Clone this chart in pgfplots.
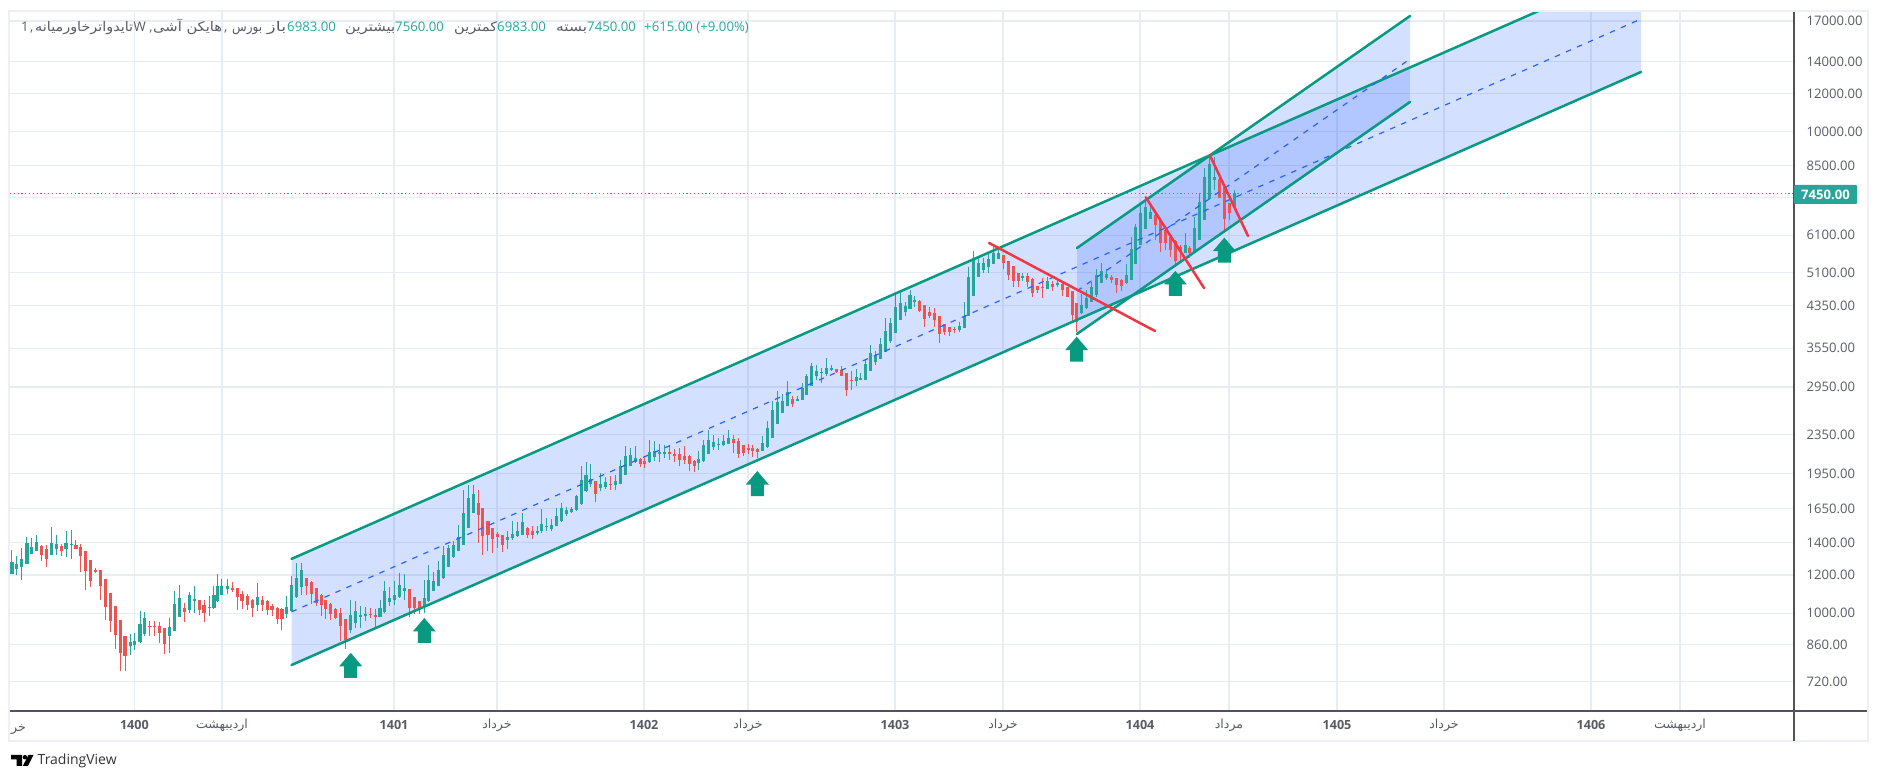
\documentclass[border=0pt]{standalone}
\usepackage{graphicx}
\usepackage{fontspec}
\usepackage{pgfplots}
\usepackage{pgfplotstable}
\pgfplotsset{compat=1.18}
\setmainfont{Open Sans}
\newfontfamily\arabicfont[Script=Arabic]{DejaVu Sans}
\TeXXeTstate=1
\newcommand{\fa}[1]{{\arabicfont\beginR #1\endR}}
\newcommand{\faw}[2]{\resizebox{#1}{\height}{\fa{#2}}}
\definecolor{upc}{HTML}{26A69A}
\definecolor{dnc}{HTML}{EF5350}
\definecolor{linec}{HTML}{089981}
\definecolor{redl}{HTML}{F23645}
\definecolor{bluec}{HTML}{2962FF}
\definecolor{gridc}{HTML}{E8EDF3}
\definecolor{framec}{HTML}{EEF0F5}
\definecolor{axc}{HTML}{50535E}
\definecolor{txtc}{HTML}{585B66}
\pgfdeclareplotmark{uparr}{%
 \pgfpathmoveto{\pgfqpoint{0pt}{0pt}}%
 \pgfpathlineto{\pgfqpoint{11.5pt}{-13.5pt}}%
 \pgfpathlineto{\pgfqpoint{6.5pt}{-13.5pt}}%
 \pgfpathlineto{\pgfqpoint{6.5pt}{-25pt}}%
 \pgfpathlineto{\pgfqpoint{-6.5pt}{-25pt}}%
 \pgfpathlineto{\pgfqpoint{-6.5pt}{-13.5pt}}%
 \pgfpathlineto{\pgfqpoint{-11.5pt}{-13.5pt}}%
 \pgfpathclose\pgfusepathqfill}
\pgfplotstableread{
x l o c h
11.9 1203 1203 1277 1351
16.6 1198 1236 1267 1317
21.7 1171 1248 1297 1366
26.9 1267 1267 1399 1440
31.6 1329 1329 1372 1433
36.4 1344 1349 1408 1456
51.4 1323 1323 1399 1513
56.1 1323 1361 1392 1456
66 1307 1361 1399 1479
71.2 1298 1383 1394 1491
130.1 817 853 870 905
134.8 840 860 877 908
140 867 869 951 1012
144.7 895 906 975 1004
169.6 826 895 935 977
174.4 917 917 1047 1110
179.5 980 980 1077 1145
189.4 1001 1017 1093 1104
194.1 1001 1061 1072 1137
209.2 988 1025 1030 1084
213.9 1021 1024 1091 1137
217.1 1056 1059 1137 1203
221.8 1092 1092 1141 1178
227.4 1098 1120 1141 1178
257.4 1009 1042 1079 1155
286.7 977 998 1030 1084
291.8 1009 1012 1145 1193
296.6 1076 1079 1182 1271
301.3 1092 1132 1232 1271
350.7 909 924 993 1065
355.5 931 954 1012 1060
360.6 930 983 993 1037
365.8 962 987 998 1030
380 982 982 1025 1065
384.7 1001 1004 1114 1165
389.5 1034 1055 1077 1134
394.6 1042 1067 1092 1165
399.8 1076 1079 1145 1209
404.5 1067 1112 1128 1203
424.3 1001 1030 1076 1171
428.2 1056 1059 1174 1259
433.4 1112 1112 1167 1216
438.5 1137 1137 1227 1281
443.3 1178 1182 1321 1381
448.4 1247 1247 1364 1387
453.5 1302 1307 1387 1410
458.3 1344 1344 1440 1528
463.4 1387 1387 1615 1805
468.6 1503 1503 1733 1849
473.3 1615 1615 1770 1849
507.7 1359 1422 1440 1479
512.5 1422 1431 1461 1552
517.6 1438 1445 1484 1545
522.3 1456 1456 1545 1615
537.4 1456 1468 1484 1517
541.3 1468 1479 1535 1645
546.5 1479 1508 1520 1577
551.6 1479 1496 1528 1570
556.3 1517 1517 1591 1655
561.1 1545 1552 1655 1694
566.2 1591 1604 1640 1660
571.4 1615 1620 1645 1665
576.1 1632 1637 1749 1760
581.3 1680 1684 1893 2018
586 1784 1790 1937 2060
590.7 1829 1858 1900 2039
600.3 1790 1819 1858 1956
605.3 1811 1829 1876 1921
615.3 1805 1849 1879 1937
620.3 1858 1858 2019 2084
625.3 1934 1937 2118 2222
630.3 2018 2023 2134 2205
635.3 2051 2060 2105 2222
649.3 2051 2058 2165 2292
654.3 2070 2106 2175 2275
659.3 2060 2146 2160 2248
664.3 2105 2140 2165 2240
698.7 1988 2051 2095 2175
703.7 2060 2070 2240 2292
708.7 2140 2146 2285 2406
713.3 2180 2210 2266 2350
718.3 2180 2230 2250 2312
723.3 2222 2230 2280 2350
728.3 2250 2250 2312 2406
762.3 2175 2175 2255 2330
767.7 2202 2209 2423 2502
772.7 2315 2315 2645 2753
777.7 2474 2474 2745 2897
782.3 2603 2603 2753 2852
787.3 2688 2688 2875 3040
797.3 2753 2753 2788 2822
802.3 2767 2767 2935 3005
806.7 2842 2842 3113 3143
811.7 2968 2968 3265 3308
816.7 3055 3113 3185 3281
821.7 3005 3155 3175 3230
826.7 3103 3143 3230 3392
831.7 3185 3195 3230 3281
856.7 2968 3030 3095 3215
860.7 3045 3055 3080 3155
865.7 3055 3055 3300 3370
870.7 3180 3180 3470 3610
875.7 3281 3320 3445 3500
880.7 3375 3375 3630 3725
885.3 3491 3491 3866 4100
890.3 3640 3668 4004 4100
895.3 3818 3818 4336 4636
900.3 4069 4069 4405 4660
905.3 4135 4233 4350 4424
910 4290 4290 4585 4696
914.3 4336 4425 4467 4560
959.3 3830 3868 3958 4020
964.3 3905 3905 4150 4440
968.7 4150 4150 5005 5250
973.3 4565 4565 5420 5650
978.3 5005 5005 5335 5460
983.3 5100 5155 5335 5460
988.3 5100 5235 5445 5590
993.3 5315 5315 5610 5850
998.3 5430 5445 5610 5731
1022.3 4910 4980 5020 5100
1047.3 4710 4722 4900 5005
1057.3 4750 4805 4850 4940
1081.3 4185 4212 4370 4605
1086.3 4290 4300 4512 4696
1091.3 4440 4440 4770 4887
1096.3 4545 4580 5045 5200
1101.3 4846 4846 5143 5352
1106.3 4925 4965 5065 5185
1126.3 4830 4850 5045 5310
1131.3 4920 4920 5720 6060
1135.7 5310 5310 6330 6440
1140.3 5810 5810 6789 7063
1145.3 6271 6271 6985 7290
1150.3 6590 6590 6820 7120
1185.3 5595 5595 5810 6170
1194.3 5640 5640 6300 6660
1199.3 5960 5960 7155 7470
1204.3 6555 6555 8060 8410
1209.3 7270 7270 8570 8953
1214.3 7565 7925 8050 8880
1234.3 6983 6983 7450 7560
}\upt
\pgfplotstableread{
x l o c h
41.5 1281 1381 1323 1385
46.3 1245 1356 1298 1387
61.3 1312 1381 1349 1394
75.9 1359 1387 1361 1422
80.7 1216 1372 1317 1392
85.4 1119 1349 1222 1349
90.5 1132 1291 1165 1291
95.3 1212 1227 1216 1239
100.4 1067 1227 1137 1227
105.2 966 1180 1029 1180
110.3 913 1102 962 1102
115.1 843 1037 902 1037
120.2 757 969 826 969
125 757 897 813 897
149.9 895 941 936 965
154.6 897 941 935 965
159.7 867 938 911 957
164.5 824 930 864 930
184.3 957 1027 1007 1050
199.3 993 1067 1017 1067
204 957 1042 1001 1067
232.1 1104 1130 1117 1159
237.2 1017 1125 1081 1128
242 1021 1098 1059 1114
247.1 1014 1084 1042 1098
252.3 982 1067 1025 1070
262.2 1009 1065 1042 1084
267.3 993 1058 1014 1065
272 988 1037 1014 1047
277.2 951 1025 973 1029
281.9 924 1022 973 1025
306.4 1088 1182 1137 1182
311.6 1047 1163 1097 1165
316.3 1037 1128 1050 1128
321.5 988 1093 1038 1097
325.4 973 1067 1021 1067
330.6 969 1045 998 1050
335.7 973 1020 977 1025
340.5 873 1001 938 1025
345.6 843 973 878 973
370.5 977 998 991 1025
375.2 934 993 980 1022
409.6 982 1123 1025 1123
414.4 998 1081 1025 1081
419.5 998 1058 1025 1058
478.1 1399 1694 1602 1805
482.8 1323 1655 1449 1655
487.9 1344 1552 1456 1552
492.7 1333 1503 1425 1503
497.8 1366 1461 1440 1471
502.6 1338 1456 1387 1456
527.5 1433 1505 1456 1510
532.6 1425 1484 1456 1517
595.3 1698 1884 1772 1884
610.3 1802 1858 1852 1930
640.3 2008 2095 2040 2105
644.7 2000 2070 2040 2105
669.3 2085 2160 2140 2230
674.3 2060 2146 2122 2195
679.3 2018 2140 2085 2205
684.3 2039 2120 2085 2222
689.3 1971 2125 2040 2134
694.3 1961 2075 2018 2085
733.3 2155 2295 2255 2350
738.3 2105 2280 2146 2312
743.3 2118 2240 2155 2240
748.3 2146 2205 2180 2250
752.7 2106 2205 2175 2240
757.3 2105 2195 2165 2205
792.3 2675 2788 2725 2830
836.7 3155 3215 3170 3220
841.7 3103 3205 3113 3265
846.7 2822 3155 2910 3155
851.7 2910 3045 3030 3180
919.3 4233 4460 4250 4480
924.3 3925 4370 4085 4370
929.3 4100 4225 4150 4336
934.3 3930 4212 4069 4300
939.3 3640 4150 3805 4150
944.3 3785 3990 3830 3990
949.3 3770 3922 3830 3940
954.3 3818 3893 3868 3930
1003.3 5185 5550 5335 5550
1008.3 4925 5400 5045 5400
1013.3 4770 5270 4910 5270
1018.3 4770 5085 4910 5100
1027.3 4770 5020 4865 5085
1032.3 4535 4940 4615 4965
1037.3 4615 4785 4696 4785
1042.3 4512 4750 4730 4965
1052.3 4660 4835 4760 4910
1062.3 4560 4830 4696 4910
1067.3 4530 4770 4530 4770
1072.3 4004 4660 4167 4660
1076.7 3848 4405 4035 4405
1111.3 4850 5000 4930 5040
1116.3 4630 4980 4805 4980
1121.3 4670 4920 4775 4943
1155.3 5950 6730 6390 6789
1160.3 5625 6575 5865 6630
1165.3 5680 6240 5885 6370
1170.3 5495 6055 5680 6075
1175.3 5250 5930 5380 5950
1180.3 5395 5775 5625 5810
1189.7 5480 5730 5595 5793
1219.3 7290 7980 7300 8015
1224.3 6220 7690 6580 7710
1229.3 6555 7120 6789 7120
}\dnt
\pgfplotsset{
 wick/.style={draw=none,mark=none,forget plot,error bars/.cd,y dir=plus,y explicit,error mark=none,error bar style={line width=1pt,draw=#1}},
 body/.style={draw=none,mark=none,forget plot,error bars/.cd,y dir=plus,y explicit,error mark=none,error bar style={line width=3.2pt,draw=#1}},
 chan/.style={draw=linec,line width=2.5pt,line cap=round,forget plot},
 redt/.style={draw=redl,line width=2.5pt,line cap=round,forget plot},
 midl/.style={draw=bluec,line width=1.2pt,dash pattern=on 5.5pt off 6.5pt,forget plot},
 area/.style={draw=none,fill=bluec,fill opacity=0.2,forget plot}
}
\begin{document}
\begin{tikzpicture}[x=1pt,y=1pt]
\path (0,0) rectangle (1879,781);
\begin{axis}[
 at={(10pt,70pt)},anchor=south west,scale only axis,width=1784pt,height=700pt,
 xmin=10,xmax=1794,ymin=626.1,ymax=17833,ymode=log,log basis y=10,
 axis x line*=bottom,axis y line*=right,
 axis line style={-,draw=axc,line width=1.1pt},
 xmajorgrids,ymajorgrids,grid style={draw=gridc,line width=1.1pt},
 major tick length=0pt,minor tick length=0pt,
 ytick={720,860,1000,1200,1400,1650,1950,2350,2950,3550,4350,5100,6100,7300,8500,10000,12000,14000,17000},
 yticklabels={720.00,860.00,1000.00,1200.00,1400.00,1650.00,1950.00,2350.00,2950.00,3550.00,4350.00,5100.00,6100.00,{},8500.00,10000.00,12000.00,14000.00,17000.00},
 yticklabel style={anchor=west,xshift=9pt,font=\fontsize{13.1}{15}\selectfont,text=txtc},
 xtick={134.4,222,394,497,644,748,895,1003,1140,1229,1337,1444,1591,1680},
 xticklabels={\textbf{1400},\fa{اردیبهشت},\textbf{1401},\fa{خرداد},\textbf{1402},\fa{خرداد},\textbf{1403},\fa{خرداد},\textbf{1404},\fa{مرداد},\textbf{1405},\fa{خرداد},\textbf{1406},\fa{اردیبهشت}},
 xticklabel style={anchor=center,yshift=-14pt,font=\fontsize{12.6}{15}\selectfont,text=txtc},
]
% drawn zones
\addplot[area] coordinates {(291.5,1296)(1641,22116)(1641,13320)(291.5,780)} -- cycle;
\addplot[area] coordinates {(1077,5737)(1410,17411)(1410,11538)(1077,3803)} -- cycle;
% candles
\addplot[wick=upc] table[x=x,y=l,y error plus expr=\thisrow{h}-\thisrow{l}] {\upt};
\addplot[body=upc] table[x=x,y=o,y error plus expr=\thisrow{c}-\thisrow{o}] {\upt};
\addplot[wick=dnc] table[x=x,y=l,y error plus expr=\thisrow{h}-\thisrow{l}] {\dnt};
\addplot[body=dnc] table[x=x,y=c,y error plus expr=\thisrow{o}-\thisrow{c}] {\dnt};
% current price line
\addplot[draw=upc,line width=1.1pt,dash pattern=on 1.2pt off 2.6pt,forget plot] coordinates {(10,7450)(1794,7450)};
% main channel
\addplot[midl] coordinates {(291.5,1006)(1641,17163)};
\addplot[chan] coordinates {(291.5,1296)(1641,22116)};
\addplot[chan] coordinates {(291.5,780)(1641,13320)};
% small channel
\addplot[midl] coordinates {(1077,4670)(1410,14172)};
\addplot[chan] coordinates {(1077,5737)(1410,17411)};
\addplot[chan] coordinates {(1077,3803)(1410,11538)};
% corrective lines
\addplot[redt] coordinates {(989,5877)(1155,3857)};
\addplot[redt] coordinates {(1145.7,7313)(1204,4737)};
\addplot[redt] coordinates {(1209.7,8954)(1248,6077)};
% arrows
\addplot[only marks,mark=uparr,mark options={fill=linec,draw=none},forget plot] coordinates {(350.7,827)(424.3,977)(757.3,1974)(1076.7,3754)(1175.3,5141)(1224.3,6028)};
\end{axis}
% frame and scale lines
\draw[framec,line width=2pt] (9,770) rectangle (1868,39.5);
\draw[axc,line width=1.1pt] (10,70) -- (1867,70);
\draw[axc,line width=1.1pt] (1794,70) -- (1794,40);
% last price label
\fill[upc,rounded corners=1pt] (1794,596) rectangle (1857,577);
\node[anchor=center,text=white,font=\fontsize{13.1}{15}\selectfont\bfseries] at (1825.5,586.5) {7450.00};
% clipped time label
\node[anchor=east,text=txtc,font=\fontsize{12.6}{15}\selectfont,inner sep=0pt] at (26,51) {\fa{خر}};
% legend line
\begin{scope}[every node/.style={anchor=base west,inner sep=0pt,font=\fontsize{13.2}{15}\selectfont}]
\node[text=txtc] at (21,749.5) {1};
\node[text=txtc] at (30,749.5) {,};
\node[text=txtc] at (35,749.5) {\faw{98pt}{تایدواترخاورمیانه}};
\node[text=txtc] at (133.5,749.5) {W ,};
\node[text=txtc] at (153,749.5) {\resizebox{69pt}{\height}{\arabicfont\beginR هایکن آشی\endR}};
\node[text=txtc] at (224,749.5) {,};
\node[text=txtc] at (232,749.5) {\faw{30pt}{بورس}};
\node[text=txtc] at (267,749.5) {\faw{19pt}{باز}};
\node[text=upc] at (287,749.5) {6983.00};
\node[text=txtc] at (345,749.5) {\faw{50pt}{بیشترین}};
\node[text=upc] at (395,749.5) {7560.00};
\node[text=txtc] at (454,749.5) {\faw{43pt}{کمترین}};
\node[text=upc] at (497,749.5) {6983.00};
\node[text=txtc] at (556,749.5) {\faw{31pt}{بسته}};
\node[text=upc] at (587,749.5) {7450.00};
\node[text=upc] at (644,749.5) {+615.00 (+9.00\%)};
\end{scope}
% TradingView logo and name
\fill[black] (11,26) -- (22,26) -- (22,15) -- (16.5,15) -- (16.5,21.5) -- (11,21.5) -- cycle;
\fill[black] (25,23.8) circle (2.3);
\fill[black] (28.5,26) -- (33.5,26) -- (28,15) -- (22.8,15) -- cycle;
\node[anchor=west,inner sep=0pt,text=black!80,font=\fontsize{14}{16}\selectfont] at (37.5,20.5) {TradingView};
\end{tikzpicture}
\end{document}
